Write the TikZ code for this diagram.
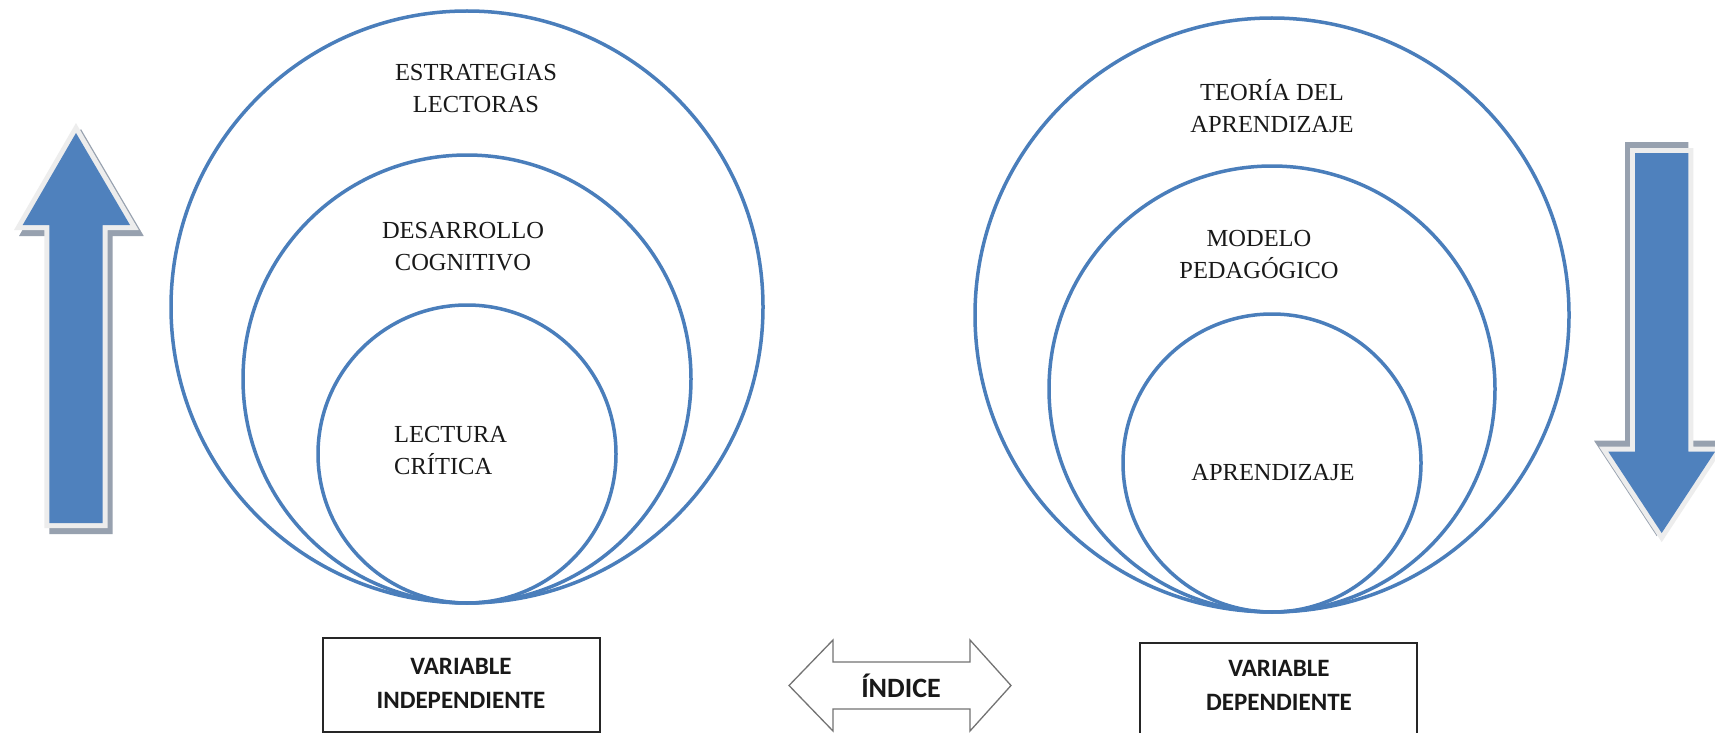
\documentclass[tikz,border=0pt]{standalone}
\usepackage{fontspec}
\setmainfont{Liberation Serif}
\newfontfamily\boxfont{Carlito}
\definecolor{cblue}{HTML}{4A7EBB}
\definecolor{afill}{HTML}{4F81BD}
\definecolor{glowc}{HTML}{EDEDED}
\definecolor{shad}{HTML}{97A1AF}
\begin{document}
\begin{tikzpicture}[x=1pt,y=-1pt,
  ring/.style={circle, draw=cblue, line width=3.5pt, inner sep=0pt, minimum size=#1},
  lbl/.style={font=\fontsize{24.5}{32}\selectfont, align=center, inner sep=0pt, text=black!90},
  blbl/.style={font=\boxfont\bfseries\fontsize{25}{34}\selectfont, align=center, inner sep=0pt, text=black!90},
  varbox/.style={draw=black!85, line width=2pt, minimum width=277pt, inner sep=0pt},
  glowline/.style={draw=glowc, line width=10pt, line join=miter},
  shadline/.style={draw=shad, fill=shad, line width=10pt, line join=miter},
  bluefill/.style={fill=afill},
  dbl/.style={draw=black!55, line width=1.3pt, line join=miter, fill=white}]
\useasboundingbox (0,0) rectangle (1715,733);
\fill[white] (0,0) rectangle (1715,733);

% ---- left concentric circles
\node[ring=592pt] (lo) at (467,307) {};
\node[ring=448pt] (lm) at (467,379) {};
\node[ring=298pt] (li) at (467,454) {};
\node[lbl] (t1) at (476,89) {ESTRATEGIAS\\LECTORAS};
\node[lbl] (t2) at (463,247) {DESARROLLO\\COGNITIVO};
\node[lbl, align=left, anchor=west] (t3) at (394,451) {LECTURA\\CRÍTICA};

% ---- right concentric circles
\node[ring=594pt] (ro) at (1272,315) {};
\node[ring=446pt] (rm) at (1272,389) {};
\node[ring=298pt] (ri) at (1272,463) {};
\node[lbl] (t4) at (1272,106) {TEORÍA DEL\\APRENDIZAJE};
\node[lbl] (t5) at (1259,255) {MODELO\\PEDAGÓGICO};
\node[lbl] (t6) at (1273,473) {APRENDIZAJE};

% ---- up arrow (left)
\path[shadline, shift={(5,6)}] (76,133) -- (130,225) -- (102.7,225) -- (102.7,523) -- (49.3,523) -- (49.3,225) -- (22.7,225) -- cycle;
\path[glowline] (76,133) -- (130,225) -- (102.7,225) -- (102.7,523) -- (49.3,523) -- (49.3,225) -- (22.7,225) -- cycle;
\path[bluefill] (76,133) -- (130,225) -- (102.7,225) -- (102.7,523) -- (49.3,523) -- (49.3,225) -- (22.7,225) -- cycle;

% ---- down arrow (right)
\path[shadline, shift={(-5,-6)}] (1661.7,533) -- (1715,451.7) -- (1688.3,451.7) -- (1688.3,153) -- (1635,153) -- (1635,451.7) -- (1608.3,451.7) -- cycle;
\path[glowline] (1661.7,533) -- (1715,451.7) -- (1688.3,451.7) -- (1688.3,153) -- (1635,153) -- (1635,451.7) -- (1608.3,451.7) -- cycle;
\path[bluefill] (1661.7,533) -- (1715,451.7) -- (1688.3,451.7) -- (1688.3,153) -- (1635,153) -- (1635,451.7) -- (1608.3,451.7) -- cycle;

% ---- boxes
\node[varbox, minimum height=94pt] (vi) at (461.3,685) {};
\node[blbl] (vit) at (461,683) {VARIABLE\\INDEPENDIENTE};
\node[varbox, minimum height=97pt] (vd) at (1278.5,691.5) {};
\node[blbl] (vdt) at (1279,685) {VARIABLE\\DEPENDIENTE};

% ---- double arrow
\path[dbl] (789,685.5) -- (833,640) -- (833,662) -- (970,662) -- (970,640) -- (1011,685.5) -- (970,731) -- (970,709) -- (833,709) -- (833,731) -- cycle;
\node[blbl, font=\boxfont\bfseries\fontsize{28}{34}\selectfont] (idx) at (901,685.5) {ÍNDICE};
\end{tikzpicture}
\end{document}
